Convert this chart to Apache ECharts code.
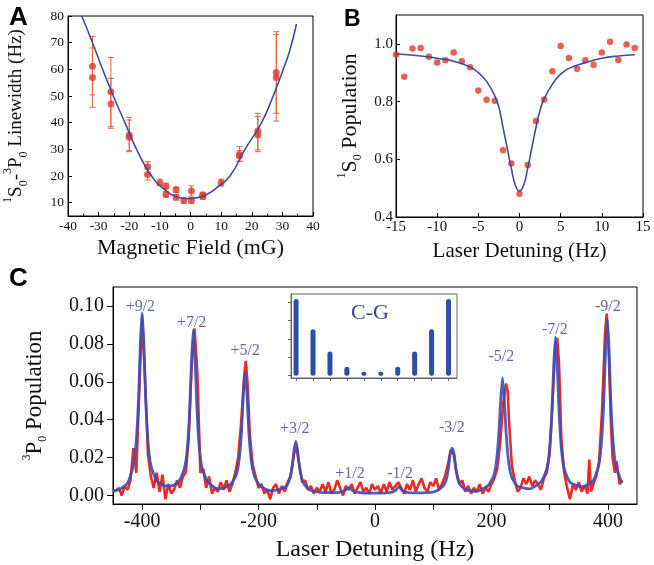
<!DOCTYPE html>
<html lang="en">
  <head>
    <meta charset="UTF-8" />
    <script src="https://cdn.jsdelivr.net/npm/echarts@6.0.0/dist/echarts.min.js"></script>
    <style>
      body { margin: 0; background: #fff; }
      #main { width: 654px; height: 565px; }
    </style>
    <title>Linewidth and Zeeman spectrum</title>
  </head>
  <body>
    <div id="main"></div>
    <script>
      // Panel A: linewidth vs magnetic field
      const aField = [-32, -32, -26, -26, -20, -20, -14, -14, -10, -8, -8, -4.7, -4.7, -2.2, 0.3, 0.3, 4, 4, 10, 16, 16, 22, 22, 28, 28];
      const aWidth = [61.2, 56.9, 51.6, 47.0, 35.4, 34.5, 23.5, 20.6, 17.5, 16.2, 13.1, 14.8, 12.0, 10.8, 14.4, 10.8, 12.9, 12.3, 17.5, 28.1, 27.5, 36.9, 35.4, 58.8, 56.9];
      const aLow = [50.4, 45.8, 38.5, 37.9, 29.1, 29.5, 21.0, 18.5, 16.5, 15.2, 12.1, 13.8, 11.0, 9.8, 12.5, 9.8, 11.9, 11.3, 16.2, 25.4, 25.6, 29.8, 29.1, 43.5, 40.6];
      const aHigh = [72.3, 68.0, 64.4, 56.6, 42.0, 41.0, 25.4, 22.5, 18.8, 17.3, 14.1, 15.8, 13.0, 11.8, 16.3, 11.8, 13.9, 13.3, 18.8, 31.0, 29.5, 43.5, 42.3, 74.1, 73.0];
      const aFitX = [-35.5, -32, -28.7, -25.2, -21.4, -17.6, -12.7, -8, -4, -1.3, 2, 6, 9, 12.9, 17.8, 23.2, 27, 30.3, 32.4, 34.6];
      const aFitY = [80, 70, 60, 50, 40, 30, 20, 14.5, 12, 11.5, 11.8, 13.5, 16, 20, 30, 40, 50, 60, 67, 77];

      // Panel B: 1S0 population vs detuning
      const bDetuning = [-15, -14, -13, -12, -11, -10, -9, -8, -7, -6, -5, -4, -3, -2, -1, 0, 1, 2, 3, 4, 5, 6, 7, 8, 9, 10, 11, 12, 13, 14];
      const bPop = [0.963, 0.886, 0.984, 0.986, 0.955, 0.935, 0.943, 0.970, 0.940, 0.919, 0.838, 0.806, 0.803, 0.631, 0.585, 0.481, 0.580, 0.733, 0.807, 0.905, 0.993, 0.951, 0.914, 0.943, 0.928, 0.970, 1.007, 0.944, 0.998, 0.986];
      const bFitX = [-15, -12, -10, -8, -6, -5, -4, -3, -2.5, -2, -1.5, -1, -0.5, 0, 0.5, 1, 1.5, 2, 2.5, 3, 4, 5, 6, 8, 10, 12, 14];
      const bFitY = [0.965, 0.958, 0.95, 0.94, 0.92, 0.9, 0.87, 0.82, 0.78, 0.71, 0.64, 0.57, 0.51, 0.49, 0.51, 0.57, 0.64, 0.71, 0.77, 0.81, 0.86, 0.895, 0.915, 0.935, 0.95, 0.958, 0.962];

      // Panel C: 3P0 population spectrum (measured, red) and fit (blue)
      const cRed = [
        [-448, 0.002], [-445, 0.003], [-440, 0.004], [-435, 0.000], [-430, 0.005], [-425, 0.003], [-420, 0.008], [-415, 0.025],
        [-410, 0.012], [-405, 0.054], [-400, 0.095], [-395, 0.062], [-390, 0.022], [-385, 0.010], [-380, 0.004], [-375, 0.012],
        [-370, 0.002], [-365, 0.011], [-360, -0.002], [-355, 0.006], [-350, 0.001], [-345, 0.003], [-340, 0.008], [-335, 0.004],
        [-330, 0.010], [-325, 0.012], [-320, 0.030], [-315, 0.068], [-310, 0.088], [-305, 0.064], [-300, 0.012], [-295, 0.014],
        [-290, 0.004], [-285, 0.010], [-280, 0.001], [-275, 0.004], [-270, 0.002], [-265, 0.007], [-260, 0.003], [-255, 0.008],
        [-250, 0.002], [-245, 0.006], [-240, 0.012], [-235, 0.020], [-230, 0.038], [-225, 0.062], [-222, 0.071], [-219, 0.060],
        [-215, 0.032], [-210, 0.016], [-205, 0.010], [-200, 0.004], [-195, 0.006], [-190, 0.001], [-185, 0.003], [-180, -0.002],
        [-175, 0.004], [-170, 0.006], [-165, 0.001], [-160, 0.005], [-155, 0.002], [-150, 0.007], [-145, 0.010], [-140, 0.020],
        [-136, 0.027], [-130, 0.016], [-125, 0.007], [-120, 0.008], [-115, 0.003], [-110, 0.005], [-105, 0.001], [-100, 0.004],
        [-95, 0.002], [-90, 0.006], [-85, 0.002], [-80, 0.007], [-75, 0.001], [-70, 0.003], [-65, 0.008], [-60, 0.004],
        [-55, 0.000], [-50, 0.005], [-45, 0.003], [-40, 0.006], [-35, 0.001], [-30, 0.004], [-25, 0.007], [-20, 0.002],
        [-15, 0.004], [-10, 0.001], [-5, 0.006], [0, 0.003], [5, 0.005], [10, 0.001], [15, 0.006], [20, 0.002],
        [25, 0.007], [30, 0.003], [35, 0.005], [40, 0.007], [45, 0.004], [50, 0.001], [55, 0.006], [60, 0.003],
        [65, 0.008], [70, 0.002], [75, 0.006], [80, 0.009], [85, 0.004], [90, 0.002], [95, 0.007], [100, 0.005],
        [105, 0.009], [110, 0.003], [115, 0.006], [120, 0.010], [125, 0.016], [130, 0.024], [135, 0.022], [140, 0.012],
        [145, 0.006], [150, 0.008], [155, 0.002], [160, 0.005], [165, 0.001], [170, 0.004], [175, 0.002], [180, 0.006],
        [185, 0.001], [190, 0.004], [195, 0.002], [200, 0.006], [205, 0.009], [210, 0.014], [215, 0.028], [220, 0.048],
        [225, 0.059], [228, 0.055], [230, 0.040], [235, 0.016], [240, 0.008], [245, 0.002], [250, 0.004], [255, 0.009],
        [260, 0.006], [265, 0.010], [270, 0.005], [275, 0.008], [280, 0.006], [285, 0.003], [290, 0.009], [295, 0.012],
        [300, 0.022], [305, 0.050], [310, 0.080], [313, 0.083], [316, 0.070], [320, 0.030], [325, 0.012], [330, 0.004],
        [335, -0.002], [340, 0.006], [345, 0.003], [350, 0.007], [355, 0.002], [360, 0.005], [365, 0.001], [368, 0.019],
        [371, 0.002], [375, 0.006], [380, 0.010], [385, 0.018], [390, 0.045], [395, 0.085], [398, 0.096], [401, 0.080],
        [405, 0.040], [408, 0.020], [412, 0.012], [415, 0.018], [420, 0.006], [425, 0.008]
      ];
      const cFit = [
        [-450, 0.0025], [-440, 0.003], [-425, 0.0065], [-415, 0.016], [-410, 0.029], [-406, 0.052], [-403, 0.080], [-400, 0.0965],
        [-397, 0.080], [-394, 0.052], [-390, 0.029], [-385, 0.016], [-375, 0.0078], [-360, 0.005], [-350, 0.005], [-337, 0.0073],
        [-327, 0.0147], [-322, 0.026], [-318, 0.047], [-315, 0.072], [-312, 0.0875], [-309, 0.072], [-306, 0.047], [-302, 0.026],
        [-297, 0.0145], [-287, 0.007], [-270, 0.0035], [-260, 0.004], [-248, 0.0059], [-238, 0.011], [-233, 0.0198], [-229, 0.035],
        [-226, 0.054], [-223, 0.065], [-220, 0.054], [-217, 0.035], [-213, 0.0198], [-208, 0.011], [-198, 0.0052], [-180, 0.0025],
        [-161, 0.0034], [-151, 0.0055], [-146, 0.0093], [-142, 0.016], [-139, 0.024], [-136, 0.0285], [-133, 0.024], [-130, 0.016],
        [-126, 0.0093], [-121, 0.0055], [-111, 0.0028], [-90, 0.0015], [-65, 0.0015], [-55, 0.0022], [-50, 0.003], [-45, 0.004],
        [-40, 0.003], [-35, 0.002], [-20, 0.0013], [0, 0.0012], [25, 0.0015], [35, 0.0025], [41, 0.0047], [47, 0.0025],
        [57, 0.0015], [80, 0.0014], [100, 0.0018], [107, 0.0026], [117, 0.0049], [122, 0.008], [126, 0.014], [129, 0.0215],
        [132.5, 0.025], [136, 0.0215], [139, 0.014], [143, 0.008], [148, 0.0049], [158, 0.0028], [175, 0.0022], [194, 0.0052],
        [204, 0.0105], [209, 0.019], [213, 0.034], [216, 0.051], [219, 0.062], [222, 0.051], [225, 0.034], [229, 0.019],
        [234, 0.0105], [244, 0.005], [265, 0.0035], [285, 0.0072], [295, 0.014], [300, 0.025], [304, 0.045], [307, 0.069],
        [310, 0.0837], [313, 0.069], [316, 0.045], [320, 0.025], [325, 0.014], [335, 0.007], [355, 0.0046], [374, 0.0075],
        [384, 0.0155], [389, 0.028], [393, 0.05], [396, 0.077], [399, 0.093], [402, 0.077], [405, 0.05], [409, 0.028],
        [414, 0.0155], [424, 0.0066]
      ];
      const peakNames = ["+9/2", "+7/2", "+5/2", "+3/2", "+1/2", "-1/2", "-3/2", "-5/2", "-7/2", "-9/2"];
      const peakLabelX = [-403, -315, -223, -138, -43, 43, 132, 217, 309, 400];
      const peakLabelY = [0.0996, 0.0913, 0.0762, 0.0352, 0.0116, 0.0116, 0.0355, 0.0733, 0.0875, 0.0996];

      // inset: Clebsch-Gordan strengths
      const cgIndex = [0, 1, 2, 3, 4, 5, 6, 7, 8, 9];
      const cgHeight = [1.045, 0.633, 0.33, 0.122, 0.027, 0.027, 0.122, 0.33, 0.633, 1.045];

      const serif = "Liberation Serif";
      const black = "#111";
      const red = "#e8362a";
      const fitBlue = "#3f4d9e";
      const labelBlue = "#3b3f95";

      const zip = (xs, ys) => xs.map((x, i) => [x, ys[i]]);

      const richSub = {
        sup: { fontSize: 12, lineHeight: 14, verticalAlign: "top" },
        sub: { fontSize: 12, lineHeight: 16, verticalAlign: "bottom" },
      };

      function nameStyle(size) {
        return { fontFamily: serif, fontSize: size, color: black, lineHeight: 28, rich: richSub };
      }

      function tickLabel(size, fmt, extra) {
        return Object.assign({ fontFamily: serif, fontSize: size, color: black, formatter: fmt }, extra || {});
      }

      function line(color) {
        return { show: true, onZero: false, lineStyle: { color: color || "#000" } };
      }

      const chart = echarts.init(document.getElementById("main"));

      chart.setOption({
        animation: false,
        grid: [
          { left: 68, right: 341, top: 16, bottom: 349, show: true, borderColor: "#000", borderWidth: 1 },
          { left: 396, right: 11, top: 15, bottom: 348, show: true, borderColor: "#000", borderWidth: 1 },
          { left: 113, right: 17, top: 287, bottom: 58, show: true, borderColor: "#000", borderWidth: 1 },
          { left: 291, right: 197, top: 294, bottom: 187, show: true, borderColor: "#666", borderWidth: 1, backgroundColor: "#fff" },
        ],
        xAxis: [
          {
            gridIndex: 0, type: "value", min: -40, max: 40, interval: 10,
            axisLine: line(),
            axisTick: { inside: true, length: 4, lineStyle: { color: "#000" } },
            minorTick: { show: true, splitNumber: 2, length: 2.5, lineStyle: { color: "#000" } },
            splitLine: { show: false },
            axisLabel: tickLabel(13.5, null, { margin: 3 }),
            name: "Magnetic Field (mG)", nameLocation: "middle", nameGap: 17,
            nameTextStyle: nameStyle(22),
          },
          {
            gridIndex: 1, type: "value", min: -15, max: 15, interval: 5,
            axisLine: line(),
            axisTick: { inside: true, length: 4, lineStyle: { color: "#000" } },
            splitLine: { show: false },
            axisLabel: tickLabel(15, null, { margin: 3 }),
            name: "Laser Detuning (Hz)", nameLocation: "middle", nameGap: 20,
            nameTextStyle: nameStyle(21),
          },
          {
            gridIndex: 2, type: "value", min: -450, max: 450,
            axisLine: line(),
            axisTick: { length: 6, lineStyle: { color: "#000" }, customValues: [-400, -300, -200, -100, 0, 100, 200, 300, 400] },
            splitLine: { show: false },
            axisLabel: tickLabel(20, null, { margin: 8, customValues: [-400, -200, 0, 200, 400] }),
            name: "Laser Detuning (Hz)", nameLocation: "middle", nameGap: 32,
            nameTextStyle: nameStyle(24),
          },
          {
            gridIndex: 3, type: "value", min: -0.3, max: 9.5,
            axisLine: line("#666"),
            axisTick: { length: 3, lineStyle: { color: "#666" }, customValues: cgIndex },
            splitLine: { show: false },
            axisLabel: { show: false },
          },
        ],
        yAxis: [
          {
            gridIndex: 0, type: "value", min: 5, max: 80,
            axisLine: line(),
            axisTick: { inside: true, length: 4, lineStyle: { color: "#000" }, customValues: [10, 20, 30, 40, 50, 60, 70, 80] },
            splitLine: { show: false },
            axisLabel: tickLabel(13.5, null, { margin: 4, customValues: [10, 20, 30, 40, 50, 60, 70, 80] }),
            name: "{sup|1}S{sub|0}-{sup|3}P{sub|0} Linewidth (Hz)", nameLocation: "middle", nameGap: 38,
            nameTextStyle: nameStyle(19),
          },
          {
            gridIndex: 1, type: "value", min: 0.4, max: 1.1,
            axisLine: line(),
            axisTick: { inside: true, length: 4, lineStyle: { color: "#000" }, customValues: [0.4, 0.6, 0.8, 1.0] },
            splitLine: { show: false },
            axisLabel: tickLabel(15, (v) => v.toFixed(1), { margin: 3, customValues: [0.4, 0.6, 0.8, 1.0] }),
            name: "{sup|1}S{sub|0} Population", nameLocation: "middle", nameGap: 32,
            nameTextStyle: nameStyle(22),
          },
          {
            gridIndex: 2, type: "value", min: -0.0045, max: 0.11,
            axisLine: line(),
            axisTick: { length: 6, lineStyle: { color: "#000" }, customValues: [0, 0.02, 0.04, 0.06, 0.08, 0.1] },
            splitLine: { show: false },
            axisLabel: tickLabel(20, (v) => v.toFixed(2), { margin: 9, customValues: [0, 0.02, 0.04, 0.06, 0.08, 0.1] }),
            name: "{sup|3}P{sub|0} Population", nameLocation: "middle", nameGap: 64,
            nameTextStyle: nameStyle(23),
          },
          {
            gridIndex: 3, type: "value", min: -0.032, max: 1.113,
            axisLine: line("#666"),
            axisTick: { length: 3, lineStyle: { color: "#666" }, customValues: [0, 0.25, 0.5, 0.75, 1] },
            splitLine: { show: false },
            axisLabel: { show: false },
          },
        ],
        graphic: [
          { type: "text", left: 9, top: 5, style: { text: "A", font: "bold 26px 'Liberation Sans'", fill: "#000" } },
          { type: "text", left: 344, top: 8, style: { text: "B", font: "bold 23px 'Liberation Sans'", fill: "#000" } },
          { type: "text", left: 9, top: 266, style: { text: "C", font: "bold 26px 'Liberation Sans'", fill: "#000" } },
          { type: "text", left: 351, top: 302, style: { text: "C-G", font: "22px 'Liberation Serif'", fill: labelBlue } },
        ],
        series: [
          {
            type: "custom", xAxisIndex: 0, yAxisIndex: 0, z: 2,
            data: aField.map((x, i) => [x, aLow[i], aHigh[i]]),
            encode: { x: 0, y: [1, 2] },
            renderItem: (params, api) => {
              const top = api.coord([api.value(0), api.value(2)]);
              const bot = api.coord([api.value(0), api.value(1)]);
              const st = { stroke: "#e0663c", lineWidth: 1 };
              return {
                type: "group",
                children: [
                  { type: "line", shape: { x1: top[0], y1: top[1], x2: bot[0], y2: bot[1] }, style: st },
                  { type: "line", shape: { x1: top[0] - 3, y1: top[1], x2: top[0] + 3, y2: top[1] }, style: st },
                  { type: "line", shape: { x1: bot[0] - 3, y1: bot[1], x2: bot[0] + 3, y2: bot[1] }, style: st },
                ],
              };
            },
          },
          {
            type: "scatter", xAxisIndex: 0, yAxisIndex: 0, z: 3,
            symbolSize: 7, itemStyle: { color: red },
            data: zip(aField, aWidth),
          },
          {
            type: "line", xAxisIndex: 0, yAxisIndex: 0, z: 4,
            smooth: true, showSymbol: false,
            lineStyle: { color: fitBlue, width: 1.6 },
            data: zip(aFitX, aFitY),
          },
          {
            type: "scatter", xAxisIndex: 1, yAxisIndex: 1, z: 3,
            symbolSize: 6.5, itemStyle: { color: red },
            data: zip(bDetuning, bPop),
          },
          {
            type: "line", xAxisIndex: 1, yAxisIndex: 1, z: 4,
            smooth: true, showSymbol: false,
            lineStyle: { color: fitBlue, width: 1.6 },
            data: zip(bFitX, bFitY),
          },
          {
            type: "line", xAxisIndex: 2, yAxisIndex: 2, z: 3,
            showSymbol: false,
            lineStyle: { color: "#ee2a22", width: 2.6 },
            data: cRed,
          },
          {
            type: "line", xAxisIndex: 2, yAxisIndex: 2, z: 4,
            showSymbol: false, smooth: 0.2,
            lineStyle: { color: "#3a4fb8", width: 2.8, opacity: 0.9 },
            data: cFit,
          },
          {
            type: "scatter", xAxisIndex: 2, yAxisIndex: 2, z: 5,
            symbolSize: 0, silent: true,
            label: {
              show: true, position: "inside", formatter: (p) => p.name,
              fontFamily: serif, fontSize: 16, color: labelBlue,
            },
            data: peakNames.map((n, i) => ({ name: n, value: [peakLabelX[i], peakLabelY[i]] })),
          },
          {
            type: "bar", xAxisIndex: 3, yAxisIndex: 3, z: 6,
            barWidth: 5, barMinHeight: 4,
            itemStyle: { color: "#2c4ea6", borderRadius: 2.5 },
            data: zip(cgIndex, cgHeight),
          },
        ],
      });
    </script>
  </body>
</html>
